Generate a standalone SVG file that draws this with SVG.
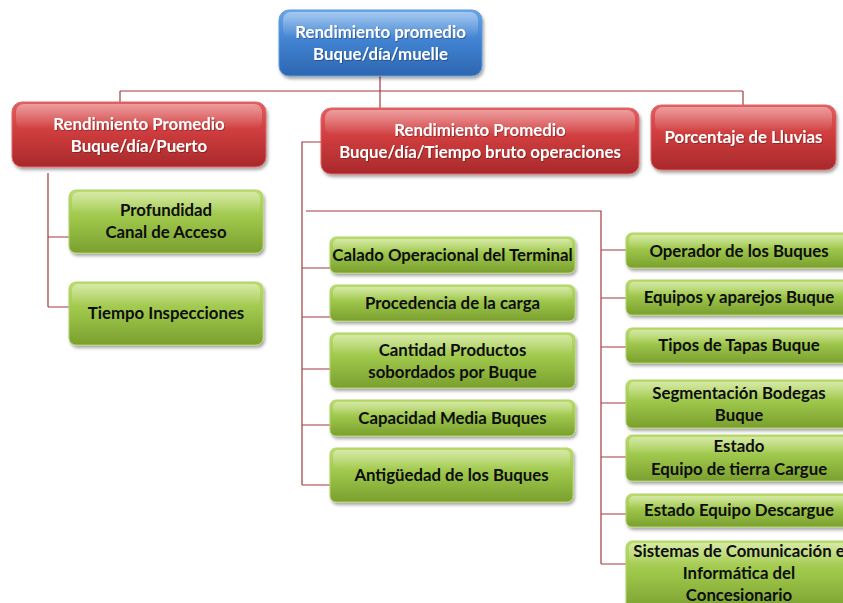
<svg xmlns="http://www.w3.org/2000/svg" width="843" height="603" viewBox="0 0 843 603">
  <defs>
    <linearGradient id="gBlue" x1="0" y1="0" x2="0" y2="1">
      <stop offset="0" stop-color="#6aa6e6"/>
      <stop offset="0.45" stop-color="#4283d2"/>
      <stop offset="1" stop-color="#2c66b0"/>
    </linearGradient>
    <linearGradient id="gRed" x1="0" y1="0" x2="0" y2="1">
      <stop offset="0" stop-color="#e25e60"/>
      <stop offset="0.45" stop-color="#cf3d3e"/>
      <stop offset="1" stop-color="#a8292b"/>
    </linearGradient>
    <linearGradient id="gGreen" x1="0" y1="0" x2="0" y2="1">
      <stop offset="0" stop-color="#bcdc6c"/>
      <stop offset="0.45" stop-color="#9ec74b"/>
      <stop offset="1" stop-color="#7a9f2e"/>
    </linearGradient>
    <linearGradient id="gGloss" x1="0" y1="0" x2="0" y2="1">
      <stop offset="0" stop-color="#ffffff" stop-opacity="0.4"/>
      <stop offset="1" stop-color="#ffffff" stop-opacity="0"/>
    </linearGradient>
    <filter id="shadow" x="-10%" y="-10%" width="130%" height="140%">
      <feDropShadow dx="1.5" dy="2.5" stdDeviation="1.8" flood-color="#000000" flood-opacity="0.35"/>
    </filter>
    <filter id="tshadow" x="-5%" y="-20%" width="110%" height="150%">
      <feDropShadow dx="0.8" dy="0.8" stdDeviation="0.6" flood-color="#000000" flood-opacity="0.35"/>
    </filter>
  </defs>
  <style>
    .blue { fill: url(#gBlue); stroke: #5f9ae0; stroke-width: 1; filter: url(#shadow); }
    .red { fill: url(#gRed); stroke: #df6668; stroke-width: 1; filter: url(#shadow); }
    .green { fill: url(#gGreen); stroke: #b0d468; stroke-width: 1; filter: url(#shadow); }
    .gloss { fill: url(#gGloss); stroke: none; }
    .lt { font-family: Lato, "Liberation Sans", sans-serif; font-weight: bold; font-size: 16.8px; text-anchor: middle; fill: #ffffff; filter: url(#tshadow); }
    .dt { font-family: Lato, "Liberation Sans", sans-serif; font-weight: bold; font-size: 16.8px; text-anchor: middle; fill: #0d0d0d; }
    .conn { stroke: #a33b3d; stroke-width: 1.2; fill: none; }
  </style>
  <rect width="843" height="603" fill="#ffffff"/>

  <!-- connectors -->
  <g id="connectors" class="conn">
    <path d="M380 76 V91 M120 91 H743 M120 91 V102 M380 91 V108 M743 91 V105"/>
    <path d="M48 173 V307 M48 237 H69 M48 307 H69"/>
    <path d="M321 142 H302 V485 M302 268 H330 M302 317 H330 M302 369 H330 M302 425 H330 M302 485 H330"/>
    <path d="M306 211 H601 V564 M601 250 H626 M601 298 H626 M601 347 H626 M601 403 H626 M601 457 H626 M601 514 H626 M601 564 H626"/>
  </g>

  <!-- root -->
  <g id="root">
    <rect class="blue" x="279" y="10" width="203" height="66" rx="10"/>
    <rect class="gloss" x="283" y="12" width="195" height="26" rx="8"/>
    <text class="lt" x="380.5" y="38">Rendimiento promedio</text>
    <text class="lt" x="380.5" y="60">Buque/día/muelle</text>
  </g>

  <!-- second level -->
  <g id="puerto">
    <rect class="red" x="12" y="102" width="254" height="65" rx="10"/>
    <rect class="gloss" x="16" y="104" width="246" height="25" rx="8"/>
    <text class="lt" x="139" y="130">Rendimiento Promedio</text>
    <text class="lt" x="139" y="152">Buque/día/Puerto</text>
  </g>
  <g id="tiempo-bruto">
    <rect class="red" x="321" y="108" width="318" height="66" rx="10"/>
    <rect class="gloss" x="325" y="110" width="310" height="25" rx="8"/>
    <text class="lt" x="480" y="136">Rendimiento Promedio</text>
    <text class="lt" x="480" y="158">Buque/día/Tiempo bruto operaciones</text>
  </g>
  <g id="lluvias">
    <rect class="red" x="651" y="105" width="185" height="65" rx="10"/>
    <rect class="gloss" x="655" y="107" width="177" height="25" rx="8"/>
    <text class="lt" x="743.5" y="143">Porcentaje de Lluvias</text>
  </g>

  <!-- children of Buque/día/Puerto -->
  <g id="profundidad">
    <rect class="green" x="69" y="190" width="194" height="63" rx="7"/>
    <rect class="gloss" x="72" y="192" width="188" height="22" rx="6"/>
    <text class="dt" x="166" y="216">Profundidad</text>
    <text class="dt" x="166" y="238">Canal de Acceso</text>
  </g>
  <g id="inspecciones">
    <rect class="green" x="69" y="282" width="194" height="63" rx="7"/>
    <rect class="gloss" x="72" y="284" width="188" height="22" rx="6"/>
    <text class="dt" x="166" y="319">Tiempo Inspecciones</text>
  </g>

  <!-- children of Tiempo bruto operaciones, left column -->
  <g id="calado">
    <rect class="green" x="330" y="237" width="245" height="36" rx="6"/>
    <rect class="gloss" x="333" y="239" width="239" height="14" rx="5"/>
    <text class="dt" x="452.5" y="261">Calado Operacional del Terminal</text>
  </g>
  <g id="procedencia">
    <rect class="green" x="330" y="285" width="245" height="36" rx="6"/>
    <rect class="gloss" x="333" y="287" width="239" height="14" rx="5"/>
    <text class="dt" x="452.5" y="309">Procedencia de la carga</text>
  </g>
  <g id="cantidad">
    <rect class="green" x="330" y="333" width="245" height="55" rx="6"/>
    <rect class="gloss" x="333" y="335" width="239" height="20" rx="5"/>
    <text class="dt" x="452.5" y="356">Cantidad Productos</text>
    <text class="dt" x="452.5" y="378">sobordados por Buque</text>
  </g>
  <g id="capacidad">
    <rect class="green" x="330" y="400" width="245" height="36" rx="6"/>
    <rect class="gloss" x="333" y="402" width="239" height="14" rx="5"/>
    <text class="dt" x="452.5" y="424">Capacidad Media Buques</text>
  </g>
  <g id="antiguedad">
    <rect class="green" x="330" y="448" width="243" height="54" rx="6"/>
    <rect class="gloss" x="333" y="450" width="237" height="20" rx="5"/>
    <text class="dt" x="451.5" y="481">Antigüedad de los Buques</text>
  </g>

  <!-- children of Tiempo bruto operaciones, right column -->
  <g id="operador">
    <rect class="green" x="626" y="233" width="226" height="35" rx="6"/>
    <rect class="gloss" x="629" y="235" width="220" height="14" rx="5"/>
    <text class="dt" x="739" y="257">Operador de los Buques</text>
  </g>
  <g id="equipos">
    <rect class="green" x="626" y="280" width="226" height="35" rx="6"/>
    <rect class="gloss" x="629" y="282" width="220" height="14" rx="5"/>
    <text class="dt" x="739" y="303">Equipos y aparejos Buque</text>
  </g>
  <g id="tapas">
    <rect class="green" x="626" y="328" width="226" height="35" rx="6"/>
    <rect class="gloss" x="629" y="330" width="220" height="14" rx="5"/>
    <text class="dt" x="739" y="351">Tipos de Tapas Buque</text>
  </g>
  <g id="bodegas">
    <rect class="green" x="626" y="380" width="226" height="48" rx="6"/>
    <rect class="gloss" x="629" y="382" width="220" height="18" rx="5"/>
    <text class="dt" x="739" y="399">Segmentación Bodegas</text>
    <text class="dt" x="739" y="421">Buque</text>
  </g>
  <g id="tierra-cargue">
    <rect class="green" x="626" y="435" width="226" height="46" rx="6"/>
    <rect class="gloss" x="629" y="437" width="220" height="17" rx="5"/>
    <text class="dt" x="739" y="452">Estado</text>
    <text class="dt" x="739" y="475">Equipo de tierra Cargue</text>
  </g>
  <g id="descargue">
    <rect class="green" x="626" y="494" width="226" height="33" rx="6"/>
    <rect class="gloss" x="629" y="496" width="220" height="13" rx="5"/>
    <text class="dt" x="739" y="516">Estado Equipo Descargue</text>
  </g>
  <g id="comunicacion">
    <rect class="green" x="626" y="541" width="226" height="70" rx="6"/>
    <rect class="gloss" x="629" y="543" width="220" height="22" rx="5"/>
    <text class="dt" x="739" y="557">Sistemas de Comunicación e</text>
    <text class="dt" x="739" y="579">Informática del</text>
    <text class="dt" x="739" y="601">Concesionario</text>
  </g>
</svg>
